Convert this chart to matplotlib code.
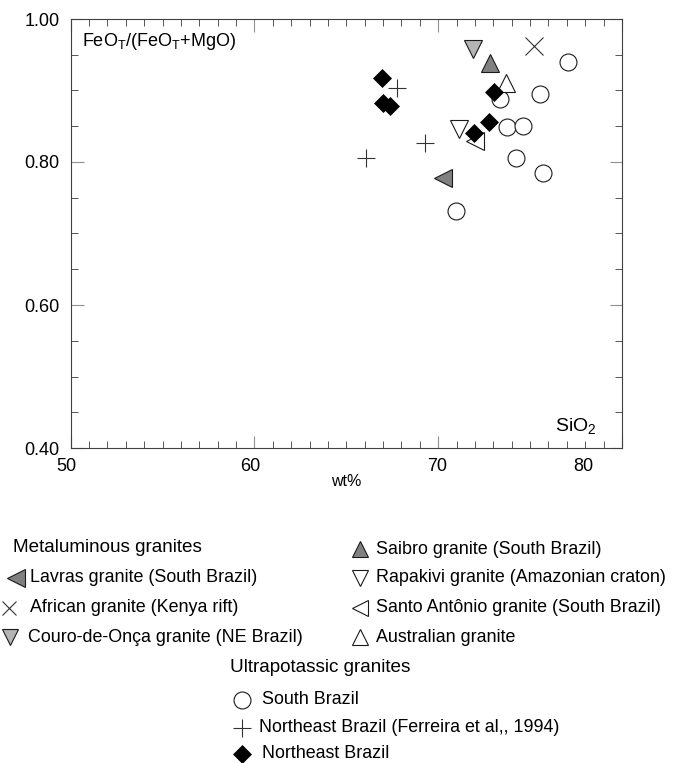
import numpy as np
import matplotlib

matplotlib.use("Agg")

import matplotlib.pyplot as plt
from matplotlib.ticker import MultipleLocator, FormatStrFormatter
from matplotlib.transforms import ScaledTranslation

plt.rcParams["font.family"] = ["Liberation Sans", "DejaVu Sans"]
plt.rcParams["mathtext.fontset"] = "custom"
plt.rcParams["mathtext.rm"] = "Liberation Sans"

# SiO2 (wt%) and FeOT/(FeOT+MgO) for each granite group
south_brazil_sio2 = [77.07, 73.36, 75.53, 73.72, 74.62, 74.21, 75.71, 70.95]
south_brazil_fe = [0.940, 0.888, 0.895, 0.849, 0.851, 0.806, 0.784, 0.731]

ne_ferreira_sio2 = [67.74, 69.28, 66.05]
ne_ferreira_fe = [0.903, 0.827, 0.806]

ne_brazil_sio2 = [66.92, 67.01, 67.37, 73.03, 72.77, 71.96]
ne_brazil_fe = [0.917, 0.882, 0.878, 0.898, 0.856, 0.841]

lavras_sio2 = [70.25]
lavras_fe = [0.778]

african_sio2 = [75.21]
african_fe = [0.962]

couro_sio2 = [71.87]
couro_fe = [0.958]

saibro_sio2 = [72.80]
saibro_fe = [0.939]

rapakivi_sio2 = [71.14]
rapakivi_fe = [0.846]

santo_sio2 = [71.98]
santo_fe = [0.830]

australian_sio2 = [73.67]
australian_fe = [0.910]

x_tick_values = [50, 60, 70, 80]
x_tick_labels = ["50", "60", "70", "80"]

EDGE = "#1a1a1a"
FRAME = "#404040"
DARK_GRAY = "#808080"
LIGHT_GRAY = "#b4b4b4"

W, H = 678, 763
fig = plt.figure(figsize=(W / 100, H / 100), dpi=100)

ax = fig.add_axes([70.7 / W, 1 - 448 / H, (622 - 70.7) / W, (448 - 19) / H])

styles = {
    "circle": dict(marker="o", ms=12.2, mfc="white", mec=EDGE, mew=0.8),
    "plus": dict(marker="+", ms=13.3, mec="#333333", mew=0.8),
    "diamond": dict(marker="D", ms=9.2, mfc="black", mec="black", mew=0.5),
    "lavras": dict(marker="<", ms=13.5, mfc=DARK_GRAY, mec=EDGE, mew=0.8),
    "african": dict(marker="x", ms=13, mec="#333333", mew=0.8),
    "couro": dict(marker="v", ms=13.5, mfc=LIGHT_GRAY, mec=EDGE, mew=0.8),
    "saibro": dict(marker="^", ms=13.5, mfc=DARK_GRAY, mec=EDGE, mew=0.8),
    "rapakivi": dict(marker="v", ms=13.5, mfc="white", mec=EDGE, mew=0.8),
    "santo": dict(marker="<", ms=13.5, mfc="white", mec=EDGE, mew=0.8),
    "australian": dict(marker="^", ms=13.5, mfc="white", mec=EDGE, mew=0.8),
}

series = [
    ("circle", south_brazil_sio2, south_brazil_fe),
    ("plus", ne_ferreira_sio2, ne_ferreira_fe),
    ("lavras", lavras_sio2, lavras_fe),
    ("african", african_sio2, african_fe),
    ("couro", couro_sio2, couro_fe),
    ("saibro", saibro_sio2, saibro_fe),
    ("rapakivi", rapakivi_sio2, rapakivi_fe),
    ("santo", santo_sio2, santo_fe),
    ("australian", australian_sio2, australian_fe),
    ("diamond", ne_brazil_sio2, ne_brazil_fe),
]

for z, (key, xs, ys) in enumerate(series):
    ax.plot(xs, ys, ls="none", zorder=3 + z, clip_on=False, **styles[key])

ax.set_xlim(50, 80)
ax.set_ylim(0.40, 1.00)

for side in ["left", "right", "top", "bottom"]:
    ax.spines[side].set_color(FRAME)
    ax.spines[side].set_linewidth(0.8)

ax.xaxis.set_major_locator(MultipleLocator(10))
ax.xaxis.set_minor_locator(MultipleLocator(1))
ax.yaxis.set_major_locator(MultipleLocator(0.2))
ax.yaxis.set_minor_locator(MultipleLocator(0.05))
ax.yaxis.set_major_formatter(FormatStrFormatter("%.2f"))

ax.tick_params(which="both", direction="in", top=True, right=True,
               labelbottom=False)
ax.tick_params(which="major", length=9, width=0.8, color="#909090",
               labelsize=13, pad=8)
ax.tick_params(which="minor", length=4.8, width=0.7, color="#555555")

# x tick labels placed as text so each one can be nudged on its own
x_shift = [-4, -4, -1, -39]
for value, label, dx in zip(x_tick_values, x_tick_labels, x_shift):
    ax.text(value, 0, label, fontsize=13, ha="center", va="top",
            transform=ax.get_xaxis_transform()
            + ScaledTranslation(dx / 100, -10 / 100, fig.dpi_scale_trans))

ax.text(0.5, -0.078, "wt%", transform=ax.transAxes, ha="center", va="center",
        fontsize=11.5)
ax.text(0.02, 0.947, r"FeO$_\mathregular{T}$/(FeO$_\mathregular{T}$+MgO)",
        transform=ax.transAxes, ha="left", va="center", fontsize=13)
ax.text(0.954, 0.05, r"SiO$_\mathregular{2}$", transform=ax.transAxes,
        ha="right", va="center", fontsize=14)

# legend block drawn in figure pixel coordinates
lax = fig.add_axes([0, 0, 1, 1], zorder=-1)
lax.set_xlim(0, W)
lax.set_ylim(H, 0)
lax.axis("off")

legend_fs = 12.9


def legend_row(x_marker, x_text, y, key, label, size=None):
    style = dict(styles[key])
    if size is not None:
        style["ms"] = size
    lax.plot([x_marker], [y], ls="none", **style)
    lax.text(x_text, y, label, fontsize=legend_fs, ha="left", va="center")


lax.text(13, 547, "Metaluminous granites", fontsize=13.6, ha="left", va="center")
legend_row(16, 30, 578, "lavras", "Lavras granite (South Brazil)", size=12.5)
legend_row(9, 30, 608, "african", "African granite (Kenya rift)", size=10.5)
legend_row(10, 28, 637, "couro", "Couro-de-Onça granite (NE Brazil)", size=11)

legend_row(360, 376, 549, "saibro", "Saibro granite (South Brazil)", size=12)
legend_row(360, 376, 578, "rapakivi", "Rapakivi granite (Amazonian craton)", size=12)
legend_row(360, 376, 608, "santo", "Santo Antônio granite (South Brazil)", size=12)
legend_row(360, 376, 637, "australian", "Australian granite", size=12)

lax.text(230, 668, "Ultrapotassic granites", fontsize=13.6, ha="left", va="center")
legend_row(242, 262, 700, "circle", "South Brazil")
legend_row(242, 259, 728, "plus", "Northeast Brazil (Ferreira et al,, 1994)")
legend_row(242, 262, 754, "diamond", "Northeast Brazil")

fig.savefig("out.png", dpi=100)
